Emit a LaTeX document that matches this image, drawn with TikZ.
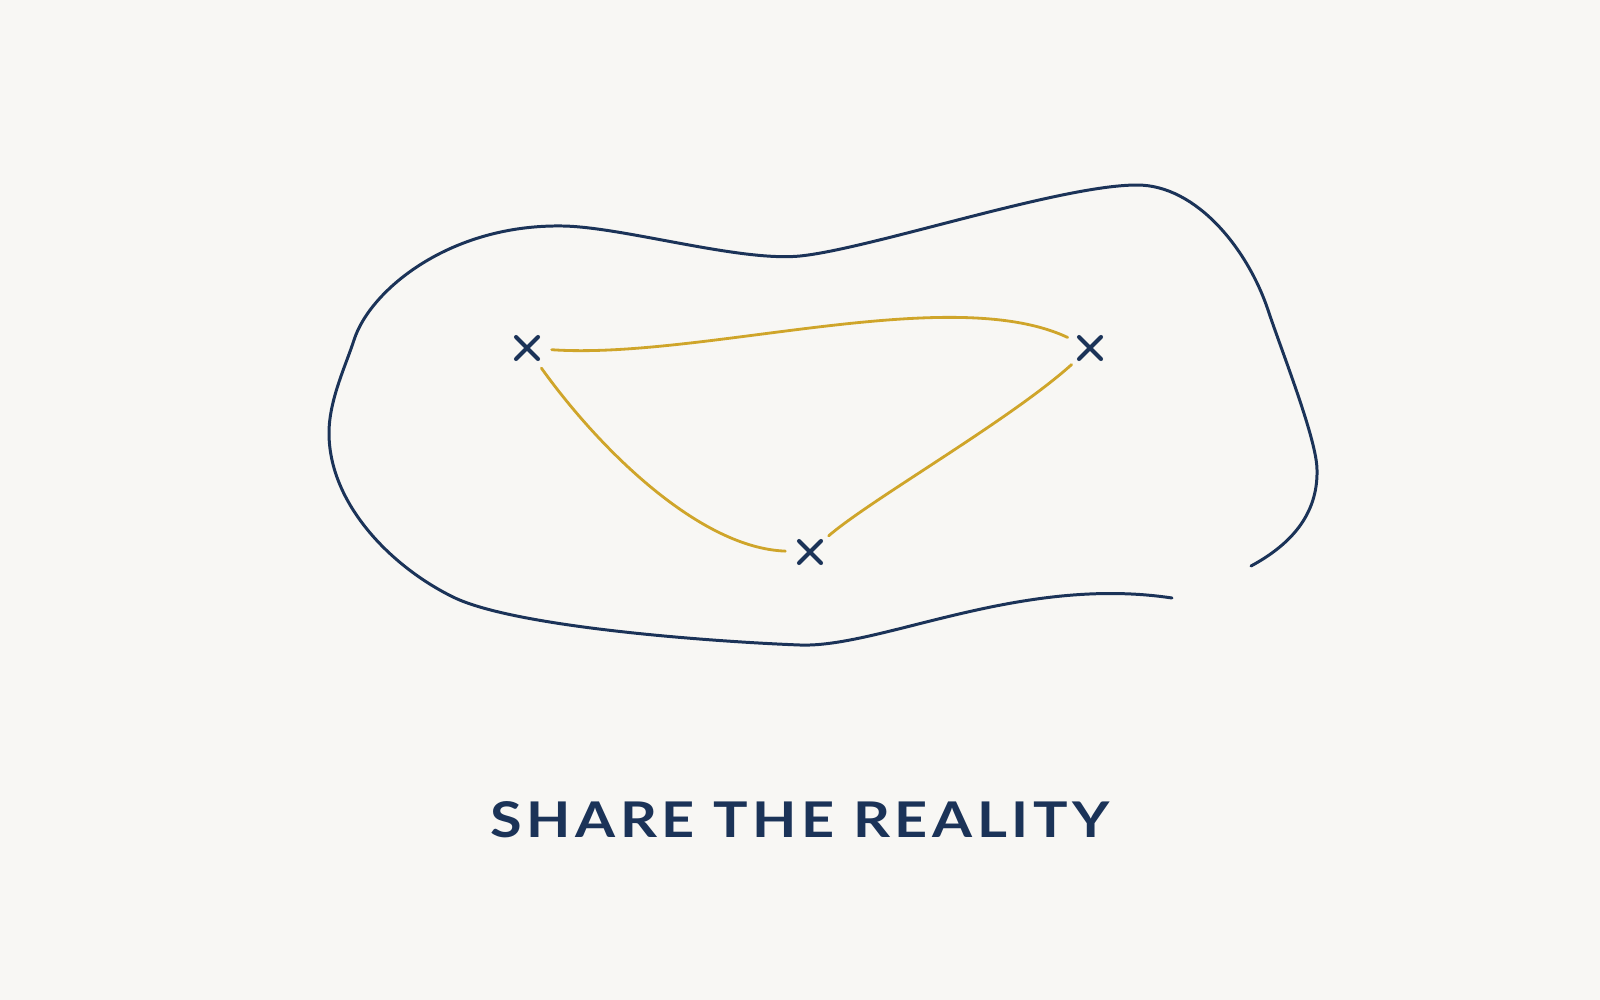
\documentclass[tikz,border=0pt]{standalone}
\usepackage{fontspec}
\newfontfamily\lblfont[LetterSpace=8]{Lato}
\definecolor{navy}{HTML}{1B3358}
\definecolor{gold}{HTML}{CFA52A}
\definecolor{paper}{HTML}{F8F7F4}
\tikzset{
  outline/.style={draw=navy, line width=0.85pt, line cap=round, line join=round},
  link/.style={draw=gold, line width=0.8pt, line cap=round},
  xmark/.style={circle, draw=none, inner sep=0pt, minimum size=0.48cm,
    path picture={
      \draw[navy, line width=1.15pt, line cap=round]
        ([shift={(-11,-11)}]path picture bounding box.center) -- ([shift={(11,11)}]path picture bounding box.center)
        ([shift={(-11,11)}]path picture bounding box.center) -- ([shift={(11,-11)}]path picture bounding box.center);
    }},
  caption/.style={text=navy, font=\lblfont\bfseries\fontsize{14}{16}\selectfont, anchor=base, inner sep=0pt}
}
\begin{document}
\begin{tikzpicture}[x=0.01cm, y=-0.01cm]
\fill[paper] (0,0) rectangle (1600,1000);
\useasboundingbox (0,0) rectangle (1600,1000);

% outer open boundary
\draw[outline] (1172,598)
  .. controls (1020,575) and (880,648) .. (800,645)
  .. controls (720,642) and (516,628) .. (453,597)
  .. controls (390,566) and (329,503) .. (329,433)
  .. controls (329,400) and (346,365) .. (354,340)
  .. controls (370,290) and (450,224) .. (563,226)
  .. controls (623,227) and (740,262) .. (800,256)
  .. controls (870,249) and (1060,185) .. (1137,185)
  .. controls (1197,185) and (1248,250) .. (1268,310)
  .. controls (1282,352) and (1317,440) .. (1317,470)
  .. controls (1318,515) and (1290,545) .. (1251,566);

% points
\node[xmark] (a) at (527,348) {};
\node[xmark] (b) at (1090,348) {};
\node[xmark] (c) at (810,552) {};

% links
\draw[link] (a) .. controls (700,360) and (950,282) .. (b);
\draw[link] (a) .. controls (600,450) and (700,548) .. (c);
\draw[link] (c) .. controls (870,500) and (1010,420) .. (b);

\node[caption] (t) at (800,837) {\scalebox{1.17}[1]{SHARE THE REALITY}};
\end{tikzpicture}
\end{document}
